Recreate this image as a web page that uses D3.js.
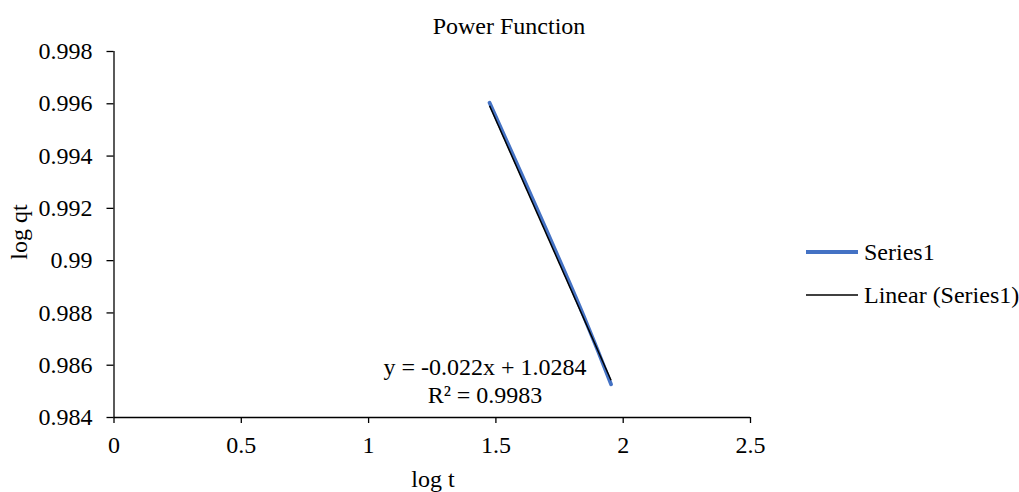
<!DOCTYPE html>
<html>
<head>
<meta charset="utf-8">
<script src="https://cdn.jsdelivr.net/npm/d3@7/dist/d3.min.js"></script>
<style>
  html, body { margin: 0; padding: 0; background: #fff; }
  svg text { font-family: "Liberation Serif", "Times New Roman", serif; font-size: 24px; fill: #000; }
</style>
</head>
<body>
<svg id="chart" width="1019" height="492"></svg>
<script>
// data
const logT = [1.4771, 1.6021, 1.6990, 1.7782, 1.8451, 1.9031, 1.9542];
const logQt = [0.99602, 0.99330, 0.99118, 0.98942, 0.98790, 0.98652, 0.98525];
const xTicks = [0, 0.5, 1, 1.5, 2, 2.5];
const yTicks = [0.984, 0.986, 0.988, 0.99, 0.992, 0.994, 0.996, 0.998];
const trendSlope = -0.022;
const trendIntercept = 1.0284;
const trendLabel = ['y = -0.022x + 1.0284', 'R² = 0.9983'];
const legendNames = ['Series1', 'Linear (Series1)'];

const svg = d3.select('#chart');
const plotLeft = 113.5, plotRight = 750, plotTop = 51, plotBottom = 417;

const x = d3.scaleLinear().domain([0, 2.5]).range([plotLeft, plotRight]);
const y = d3.scaleLinear().domain([0.984, 0.998]).range([plotBottom, plotTop]);

// title
svg.append('text')
    .attr('x', 509).attr('y', 34)
    .attr('text-anchor', 'middle')
    .text('Power Function');

// axes
const xAxis = svg.append('g')
    .attr('transform', 'translate(0,' + plotBottom + ')')
    .call(d3.axisBottom(x).tickValues(xTicks).tickSize(6)
        .tickFormat(d => String(d)));
const yAxis = svg.append('g')
    .attr('transform', 'translate(' + plotLeft + ',0)')
    .call(d3.axisLeft(y).tickValues(yTicks).tickSize(7).tickPadding(14)
        .tickFormat(d => String(+d.toFixed(3))));
[xAxis, yAxis].forEach(a => {
    a.select('.domain').attr('stroke', '#000').attr('stroke-width', 1.3);
    a.selectAll('.tick line').attr('stroke', '#000').attr('stroke-width', 1.3);
    a.selectAll('text').attr('font-family', '"Liberation Serif", serif').attr('font-size', 24).attr('fill', '#000');
});
xAxis.selectAll('.tick text').attr('dy', null).attr('y', 36);
// axis paths without outer tick stubs
yAxis.select('.domain').attr('d', 'M0.5,' + plotBottom + 'V' + plotTop);
xAxis.select('.domain').attr('d', 'M' + plotLeft + ',0.5H' + plotRight);

// axis titles
svg.append('text')
    .attr('x', 433).attr('y', 487)
    .attr('text-anchor', 'middle')
    .text('log t');
svg.append('text')
    .attr('transform', 'translate(27,232) rotate(-90)')
    .attr('text-anchor', 'middle')
    .text('log qt');

// series
const pts = logT.map((d, i) => [d, logQt[i]]);
svg.append('path')
    .datum(pts)
    .attr('d', d3.line().x(d => x(d[0])).y(d => y(d[1])).curve(d3.curveMonotoneX))
    .attr('fill', 'none')
    .attr('stroke', '#4472C4')
    .attr('stroke-width', 3.8)
    .attr('stroke-linecap', 'round')
    .attr('stroke-linejoin', 'round');

// linear trendline
const xExt = d3.extent(logT);
svg.append('path')
    .datum(xExt.map(v => [v, trendSlope * v + trendIntercept]))
    .attr('d', d3.line().x(d => x(d[0])).y(d => y(d[1])))
    .attr('fill', 'none')
    .attr('stroke', '#000')
    .attr('stroke-width', 1.5);

// trendline label
svg.append('text')
    .attr('x', 485).attr('y', 375)
    .attr('text-anchor', 'middle')
    .text(trendLabel[0]);
svg.append('text')
    .attr('x', 485).attr('y', 403)
    .attr('text-anchor', 'middle')
    .text(trendLabel[1]);

// legend
const legend = svg.append('g');
const legendStyles = [
    { stroke: '#4472C4', width: 3.8, y: 252 },
    { stroke: '#000', width: 1.3, y: 295 }
];
legendNames.forEach((name, i) => {
    const s = legendStyles[i];
    legend.append('line')
        .attr('x1', 806).attr('x2', 858)
        .attr('y1', s.y).attr('y2', s.y)
        .attr('stroke', s.stroke)
        .attr('stroke-width', s.width);
    legend.append('text')
        .attr('x', 864).attr('y', s.y + 8)
        .text(name);
});
</script>
</body>
</html>
